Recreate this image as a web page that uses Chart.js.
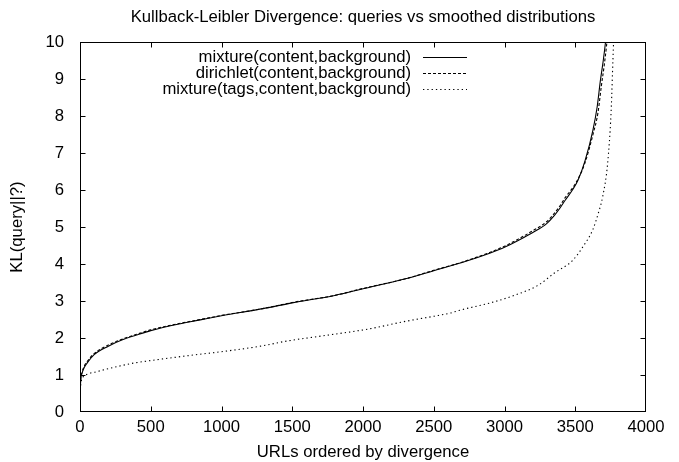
<!DOCTYPE html>
<html><head><meta charset="utf-8">
<script src="https://cdn.jsdelivr.net/npm/chart.js@4/dist/chart.umd.min.js"></script>
<style>html,body{margin:0;padding:0;background:#fff}#wrap{width:679px;height:462px}</style>
</head><body><div id="wrap"><canvas id="c" width="679" height="462"></canvas></div>
<script>
const chartTitle = "Kullback-Leibler Divergence: queries vs smoothed distributions";
const xTitle = "URLs ordered by divergence";
const yTitle = "KL(query||?)";
const seriesNames = ["mixture(content,background)", "dirichlet(content,background)", "mixture(tags,content,background)"];
const xTicks = [0, 500, 1000, 1500, 2000, 2500, 3000, 3500, 4000];
const yTicks = [0, 1, 2, 3, 4, 5, 6, 7, 8, 9, 10];

const mixX = [0, 5, 15, 30, 50, 100, 200, 300, 400, 500, 700, 850, 1000, 1300, 1500, 1800, 2000, 2300, 2500, 2700, 2900, 3000, 3100, 3200, 3300, 3350, 3390, 3430, 3480, 3520, 3570, 3625, 3655, 3678, 3698, 3714, 3730];
const mixY = [0.4, 0.85, 1.05, 1.2, 1.32, 1.55, 1.78, 1.95, 2.08, 2.2, 2.38, 2.49, 2.6, 2.8, 2.95, 3.15, 3.33, 3.6, 3.82, 4.04, 4.3, 4.45, 4.64, 4.85, 5.1, 5.3, 5.5, 5.73, 6.0, 6.27, 6.8, 7.62, 8.25, 8.97, 9.5, 10, 10.6];

const dirX = [0, 5, 15, 30, 50, 100, 200, 300, 400, 500, 700, 850, 1000, 1300, 1500, 1800, 2000, 2300, 2500, 2700, 2900, 3000, 3100, 3200, 3300, 3350, 3390, 3430, 3480, 3520, 3570, 3625, 3661, 3684, 3704, 3721, 3738];
const dirY = [0.45, 0.9, 1.08, 1.24, 1.36, 1.58, 1.81, 1.97, 2.1, 2.22, 2.39, 2.5, 2.61, 2.8, 2.96, 3.15, 3.34, 3.6, 3.83, 4.05, 4.32, 4.48, 4.68, 4.9, 5.15, 5.36, 5.56, 5.8, 6.05, 6.3, 6.75, 7.5, 8.1, 8.8, 9.35, 9.9, 10.6];

const tagX = [0, 10, 22, 50, 117, 211, 376, 500, 800, 1000, 1277, 1466, 1700, 2033, 2300, 2504, 2612, 2693, 2900, 3068, 3240, 3350, 3482, 3560, 3623, 3665, 3694, 3729, 3753, 3771, 3785];
const tagY = [0.6, 0.85, 0.95, 1.02, 1.09, 1.18, 1.32, 1.39, 1.54, 1.63, 1.78, 1.92, 2.05, 2.24, 2.45, 2.59, 2.67, 2.76, 2.95, 3.15, 3.43, 3.75, 4.1, 4.5, 4.92, 5.4, 5.82, 6.73, 8.08, 10, 11];

const FONT = "'Liberation Sans', Arial, Helvetica, sans-serif";
const FS = 16.7;
const dashes = [[], [3, 2], [1.3, 3]];
function pts(xs, ys) { return xs.map((x, i) => ({x: x, y: ys[i]})); }

const frame = {
  id: 'frame',
  afterDraw(chart) {
    const ctx = chart.ctx, a = chart.chartArea;
    const xs = chart.scales.x, ys = chart.scales.y;
    const L = Math.round(a.left) + 0.5, R = Math.round(a.right) - 0.5;
    const T = Math.round(a.top) + 0.5, B = Math.round(a.bottom) - 0.5;
    ctx.save();
    ctx.strokeStyle = '#000';
    ctx.lineWidth = 1;
    ctx.setLineDash([]);
    ctx.beginPath();
    xTicks.forEach(v => {
      const p = Math.round(xs.getPixelForValue(v)) + 0.5;
      if (v > 0 && v < 4000) {
        ctx.moveTo(p, B); ctx.lineTo(p, B - 5);
        ctx.moveTo(p, T); ctx.lineTo(p, T + 5);
      }
    });
    yTicks.forEach(v => {
      const p = Math.round(ys.getPixelForValue(v)) + 0.5;
      if (v > 0 && v < 10) {
        ctx.moveTo(L, p); ctx.lineTo(L + 5, p);
        ctx.moveTo(R, p); ctx.lineTo(R - 5, p);
      }
    });
    ctx.stroke();
    ctx.strokeRect(L, T, R - L, B - T);
    // legend
    ctx.font = FS + "px " + FONT;
    ctx.fillStyle = '#000';
    ctx.textAlign = 'right';
    ctx.textBaseline = 'middle';
    chart.data.datasets.forEach((ds, i) => {
      const y = a.top + 15 + i * 16;
      ctx.fillText(ds.label, a.left + 331, y);
      ctx.beginPath();
      ctx.setLineDash(ds.borderDash || []);
      ctx.lineWidth = ds.borderWidth;
      ctx.moveTo(a.left + 343, Math.round(y) + 0.5);
      ctx.lineTo(a.left + 387, Math.round(y) + 0.5);
      ctx.stroke();
    });
    ctx.restore();
  }
};

new Chart(document.getElementById('c'), {
  type: 'scatter',
  data: {
    datasets: [
      {label: seriesNames[0], data: pts(mixX, mixY)},
      {label: seriesNames[1], data: pts(dirX, dirY)},
      {label: seriesNames[2], data: pts(tagX, tagY)}
    ].map((d, i) => Object.assign(d, {
      showLine: true, pointRadius: 0, borderColor: '#000', borderWidth: 1.1,
      borderDash: dashes[i], cubicInterpolationMode: 'monotone', fill: false
    }))
  },
  options: {
    responsive: false, animation: false, devicePixelRatio: 1,
    layout: {padding: {left: 0, right: 33, top: 0, bottom: 0}},
    plugins: {
      legend: {display: false},
      tooltip: {enabled: false},
      title: {display: true, text: chartTitle, color: '#000', fullSize: false,
        font: {family: FONT, size: FS, weight: 'normal'}, padding: {top: 7, bottom: 15}}
    },
    scales: {
      x: {
        type: 'linear', min: 0, max: 4000,
        afterBuildTicks(s) { s.ticks = xTicks.map(v => ({value: v})); },
        ticks: {color: '#000', font: {family: FONT, size: FS}, padding: 5.5, maxRotation: 0, autoSkip: false,
          callback: v => String(v)},
        grid: {display: false, drawTicks: false},
        border: {display: false},
        title: {display: true, text: xTitle, color: '#000', font: {family: FONT, size: FS}, padding: {top: 0, bottom: 0}},
        afterFit(s) { s.height = 50; }
      },
      y: {
        type: 'linear', min: 0, max: 10,
        afterBuildTicks(s) { s.ticks = yTicks.map(v => ({value: v})); },
        ticks: {color: '#000', font: {family: FONT, size: FS}, padding: 16, autoSkip: false,
          callback: v => String(v)},
        grid: {display: false, drawTicks: false},
        border: {display: false},
        title: {display: true, text: yTitle, color: '#000', font: {family: FONT, size: FS}, padding: {top: 7, bottom: 0}},
        afterFit(s) { s.width = 80; }
      }
    }
  },
  plugins: [frame]
});
</script></body></html>
